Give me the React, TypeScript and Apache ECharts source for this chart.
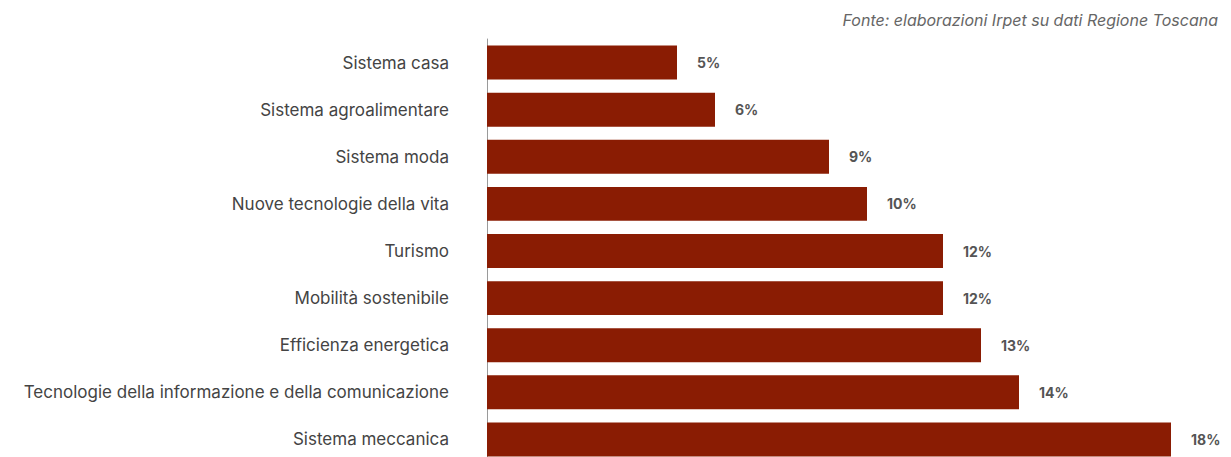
import React, { useEffect, useRef } from "react";
import * as echarts from "echarts";

const categories = [
  "Sistema casa",
  "Sistema agroalimentare",
  "Sistema moda",
  "Nuove tecnologie della vita",
  "Turismo",
  "Mobilità sostenibile",
  "Efficienza energetica",
  "Tecnologie della informazione e della comunicazione",
  "Sistema meccanica",
];
const values = [5, 6, 9, 10, 12, 12, 13, 14, 18];
const sourceText = "Fonte: elaborazioni Irpet su dati Regione Toscana";

export default function App() {
  const ref = useRef<HTMLDivElement>(null);
  useEffect(() => {
    document.body.style.margin = "0";
    const chart = echarts.init(ref.current!, null, { renderer: "svg" });
    chart.setOption({
      animation: false,
      backgroundColor: "#ffffff",
      textStyle: { fontFamily: "Inter" },
      title: {
        text: sourceText,
        right: 8,
        top: 7,
        textStyle: {
          fontSize: 16,
          fontStyle: "italic",
          fontWeight: "normal",
          color: "#666666",
          fontFamily: "Inter",
        },
      },
      grid: {
        left: 487,
        right: 60,
        top: 39,
        height: 424,
        containLabel: false,
        outerBoundsMode: "none",
      },
      xAxis: {
        type: "value",
        min: 0,
        max: 18,
        show: false,
      },
      yAxis: {
        type: "category",
        data: categories,
        inverse: true,
        axisTick: { show: false },
        axisLine: { show: true, lineStyle: { color: "#9a9a9a", width: 1 } },
        axisLabel: {
          margin: 38,
          fontSize: 17,
          color: "#444444",
          fontFamily: "Inter",
        },
      },
      series: [
        {
          type: "bar",
          data: values,
          barCategoryGap: "28%",
          itemStyle: { color: "#8a1c03" },
          label: {
            show: true,
            position: "right",
            distance: 20,
            formatter: "{c}%",
            fontSize: 14,
            fontWeight: "bold",
            color: "#555555",
            fontFamily: "Inter",
          },
        },
      ],
    });
    return () => chart.dispose();
  }, []);
  return <div ref={ref} style={{ width: 1231, height: 457 }} />;
}
